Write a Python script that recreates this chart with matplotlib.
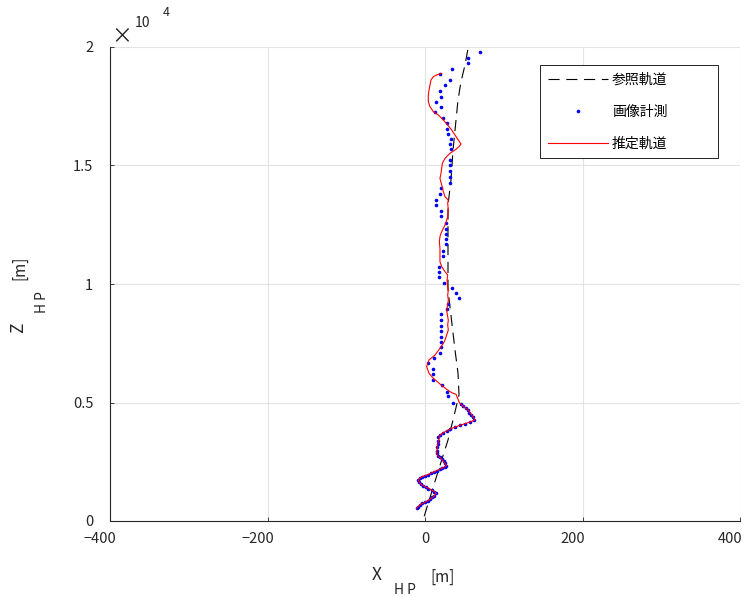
import numpy as np
import matplotlib
matplotlib.use("Agg")
import matplotlib.pyplot as plt
import matplotlib.transforms as mtransforms

plt.rcParams['font.family'] = ['Noto Sans CJK JP', 'DejaVu Sans']
plt.rcParams['axes.unicode_minus'] = True

# 参照軌道 (reference)
ref_x = [-1, 15.2, 29.2, 35.6, 43.2, 41.9, 38.1, 29.2, 29.2, 29.2, 33.0, 35.6, 39.4, 41.9, 45.5, 50.5, 55.0, 57.0]
ref_z = [200, 1941, 3418, 4262, 5316, 6245, 7215, 9747, 11857, 13333, 14388, 15654, 16920, 17764, 18500, 19200, 20000, 20400]

# 画像計測 (measured points)
meas_x = [-10.6, -9.3, -6.3, -3.4, 0.0, 3.4, 6.3, 9.3, 11.9, 14.0, 11.9, 8.5, 4.2, 0.8, -2.1, -5.5, -7.6, -8.5,
          -6.3, -3.4, 0.0, 3.4, 7.2, 11.0, 14.8, 18.6, 22.0, 25.4, 27.1, 25.4, 23.7, 21.2, 18.6, 16.1, 15.2, 14.8,
          15.2, 16.1, 16.9, 16.9, 19.0, 23.3, 27.5, 31.7, 38.1, 44.4, 50.8, 57.1, 62.6, 60.5, 58.4, 56.3, 54.2,
          52.1, 48.7, 45.7, 35.2, 29.6, 27.5, 21.2, 10.6, 9.8, 9.8, 4.2, 11.8, 19.0, 20.3, 20.3, 19.9, 19.9, 19.9,
          19.9, 20.3, 27.6, 29.6, 43.6, 39.4, 33.9, 24.4, 18.2, 18.2, 18.2, 22.5, 23.2, 26.7, 26.7, 26.7, 26.7,
          26.7, 20.3, 20.3, 13.6, 13.6, 19.0, 19.9, 31.7, 31.7, 31.7, 31.7, 31.7, 33.0, 32.1, 33.0, 29.8, 27.9,
          28.2, 22.5, 12.7, 20.3, 14.3, 19.7, 18.7, 25.4, 31.7, 18.7, 34.3, 54.6, 54.6, 69.5]
meas_z = [535, 605, 675, 746, 788, 844, 914, 999, 1069, 1167, 1238, 1308, 1364, 1435, 1491, 1561, 1632, 1730,
          1828, 1870, 1913, 1955, 2011, 2068, 2124, 2180, 2236, 2292, 2335, 2433, 2532, 2616, 2686, 2757, 2855, 2968,
          3109, 3249, 3376, 3530, 3629, 3727, 3811, 3882, 3966, 4037, 4107, 4177, 4262, 4374, 4473, 4571, 4684,
          4782, 4866, 4937, 4993, 5274, 5457, 5738, 5949, 6203, 6414, 6654, 6865, 7089, 7342, 7565, 7776, 8017, 8241,
          8481, 8722, 8932, 9156, 9397, 9608, 9852, 10063, 10283, 10494, 10730, 11181, 11405, 11675, 11886, 12097, 12308,
          12561, 12869, 13080, 13320, 13544, 13789, 14038, 14274, 14527, 14768, 15000, 15232, 15684, 15895, 16105, 16316, 16540,
          16781, 17017, 17245, 17456, 17692, 17911, 18143, 18397, 18608, 18861, 19072, 19312, 19549, 19776]

# 推定軌道 (estimated)
est_x = [-10.6, -6.3, 0.0, 6.3, 11.9, 14.0, 12.5, 8.5, 0.8, -5.5, -8.5, -7.0, -3.4, 3.4, 11.0, 18.6, 25.4, 27.5,
         25.4, 21.2, 16.1, 14.8, 15.5, 16.1, 17.5, 19.0, 23.3, 31.7, 44.4, 57.1, 63.5, 59.3, 55.0, 48.7, 43.6, 41.5,
         39.4, 33.9, 27.5, 19.0, 10.6, 5.1, 2.1, 5.0, 12.7, 19.0, 23.3, 25.4, 27.5, 29.6, 28.8, 29.6, 28.4, 27.5,
         28.8, 29.6, 28.8, 29.6, 28.4, 28.0, 28.8, 25.4, 21.2, 19.0, 19.0, 19.0, 18.2, 19.0, 20.3, 23.3, 26.3, 28.8,
         29.6, 28.8, 29.6, 25.4, 23.3, 21.2, 19.0, 20.3, 21.2, 22.0, 25.4, 31.7, 38.1, 43.2, 45.7, 42.3, 38.1, 33.9,
         28.8, 23.3, 16.9, 10.6, 6.3, 4.2, 4.2, 5.1, 6.3, 7.6, 10.6, 14.8, 21.2]
est_z = [535, 690, 790, 914, 1069, 1167, 1230, 1308, 1435, 1561, 1700, 1800, 1870, 1955, 2068, 2180, 2292, 2345,
         2433, 2616, 2757, 2900, 3050, 3249, 3400, 3629, 3727, 3882, 4037, 4177, 4262, 4473, 4684, 4824, 4993, 5176,
         5344, 5415, 5556, 5781, 6020, 6231, 6511, 6793, 7004, 7286, 7496, 7637, 7848, 8059, 8270, 8481, 8692, 8903,
         9114, 9325, 9536, 9747, 9958, 10169, 10380, 10520, 10730, 10941, 11224, 11505, 11786, 11997, 12139, 12350, 12561, 12840,
         13122, 13405, 13544, 13684, 13895, 14177, 14459, 14670, 14880, 15091, 15302, 15513, 15654, 15795, 15907, 16076, 16287, 16498,
         16709, 16920, 17131, 17271, 17482, 17693, 17975, 18186, 18397, 18608, 18748, 18819, 18889]

x_ticks = [-400, -200, 0, 200, 400]
y_ticks = [0, 5000, 10000, 15000, 20000]
y_ticklabels = ['0', '0.5', '1', '1.5', '2']

fig = plt.figure(figsize=(7.44, 5.97), dpi=100)
ax = fig.add_axes([110 / 744, 76 / 597, 630 / 744, 474 / 597])

ax.plot(ref_x, ref_z, color='k', lw=0.8, dashes=(10, 6), label='参照軌道')
ax.plot(meas_x, meas_z, ls='none', marker='o', ms=2.6, mec='none', color='b', label='画像計測')
ax.plot(est_x, est_z, color='r', lw=0.8, label='推定軌道')

ax.set_xlim(-400, 400)
ax.set_ylim(0, 20000)
ax.set_xticks(x_ticks)
ax.set_xticklabels([str(t).replace('-', '\u2212') for t in x_ticks])
ax.set_yticks(y_ticks)
ax.set_yticklabels(y_ticklabels)
ax.grid(True, color='#e3e3e3', lw=0.8)
ax.set_axisbelow(True)
for s in ['top', 'right']:
    ax.spines[s].set_visible(False)
for s in ['left', 'bottom']:
    ax.spines[s].set_color('#262626')
    ax.spines[s].set_linewidth(0.8)
ax.tick_params(direction='in', length=3, width=0.6, labelsize=10.5, colors='#262626')
ax.tick_params(axis='x', pad=8)
ax.tick_params(axis='y', pad=12)

# shift x tick labels slightly left as in the original
shift = mtransforms.ScaledTranslation(-10 / 100, 0, fig.dpi_scale_trans)
for t, lab in zip(x_ticks, ax.get_xticklabels()):
    if t != 0:
        lab.set_transform(lab.get_transform() + shift)

leg = ax.legend(loc='upper left', bbox_to_anchor=(0.683, 0.962, 0.282, 0.0), mode='expand', fontsize=10,
                fancybox=False, edgecolor='k', framealpha=1, handlelength=4.3,
                handletextpad=0.3, labelspacing=1.3, borderpad=0.55, borderaxespad=0)
leg.get_frame().set_linewidth(0.6)

# x10^4 offset
fig.text(122 / 744, 1 - 36 / 597, '\u00d7', fontsize=15, ha='center', va='center', color='#262626')
fig.text(143 / 744, 1 - 23 / 597, '10', fontsize=10, ha='center', va='center', color='#262626')
fig.text(166 / 744, 1 - 13 / 597, '4', fontsize=9, ha='center', va='center', color='#262626')

# axis labels
fig.text(377 / 744, 1 - 575 / 597, 'X', fontsize=12.5, ha='center', va='center', color='#262626')
fig.text(405 / 744, 1 - 590 / 597, 'H P', fontsize=10, ha='center', va='center', color='#262626')
fig.text(443 / 744, 1 - 577 / 597, '[m]', fontsize=11, ha='center', va='center', color='#262626')
fig.text(18 / 744, 1 - 328 / 597, 'Z', fontsize=12.5, ha='center', va='center', rotation=90, color='#262626')
fig.text(42 / 744, 1 - 302 / 597, 'H P', fontsize=10, ha='center', va='center', rotation=90, color='#262626')
fig.text(20 / 744, 1 - 268 / 597, '[m]', fontsize=11, ha='center', va='center', rotation=90, color='#262626')

fig.savefig('out.png', dpi=100)
